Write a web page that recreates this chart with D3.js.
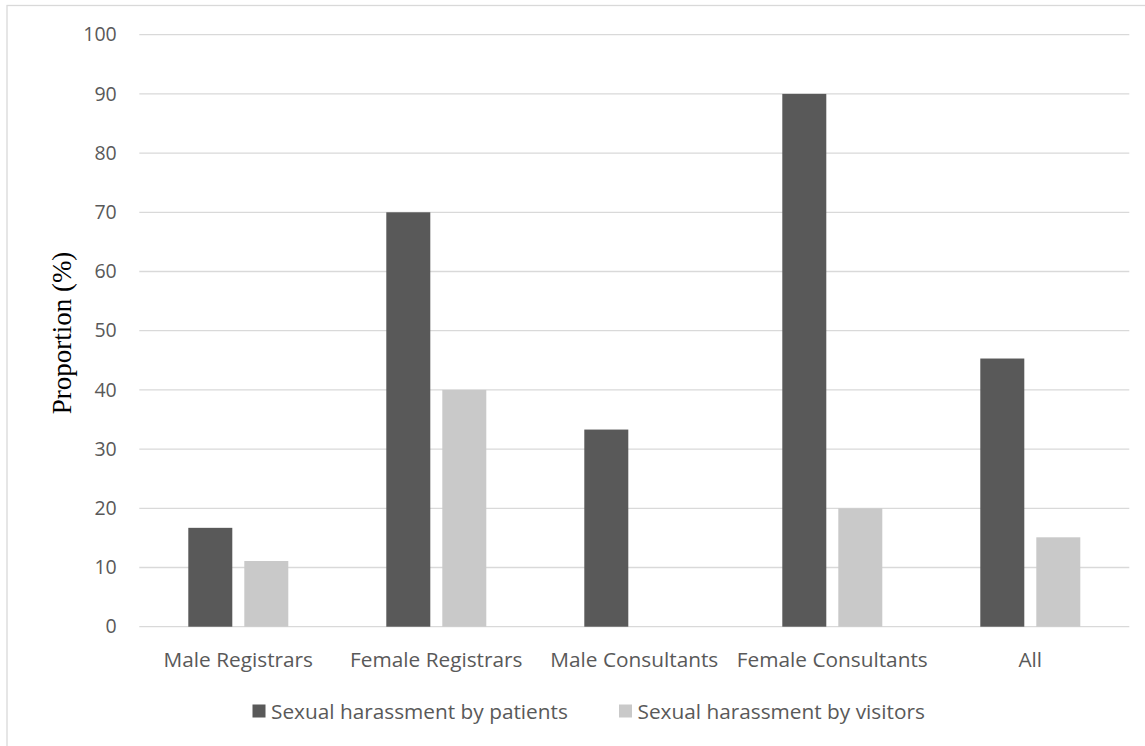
<!DOCTYPE html>
<html><head><meta charset="utf-8">
<script src="https://cdn.jsdelivr.net/npm/d3@7"></script>
<style>body{margin:0;background:#fff}svg{display:block}</style>
</head><body>
<svg id="c" width="1145" height="746"></svg>
<script>
const categories = ["Male Registrars","Female Registrars","Male Consultants","Female Consultants","All"];
const seriesNames = ["Sexual harassment by patients","Sexual harassment by visitors"];
const patients = [16.7, 70, 33.3, 90, 45.3];
const visitors = [11.1, 40, 0, 20, 15.1];
const yTicks = [0,10,20,30,40,50,60,70,80,90,100];
const colors = ["#595959","#c9c9c9"];

(function(){
const svg = d3.select("#c");
const font = "'Open Sans', Lato, sans-serif";
const textColor = "#595959";

svg.append("rect").attr("x",7).attr("y",5.5).attr("width",1150).attr("height",760)
  .attr("fill","none").attr("stroke","#d9d9d9").attr("stroke-width",1.3);

const pLeft = 139.3, pRight = 1129.3, pTop = 34.7, pBottom = 626.7;
const x0 = d3.scaleBand().domain(categories).range([pLeft,pRight]).padding(0);
const x1 = d3.scaleBand().domain(seriesNames).range([49,149]).paddingInner(2-100/56).paddingOuter(0);
const y = d3.scaleLinear().domain([0,100]).range([pBottom,pTop]);

svg.append("g").selectAll("line").data(yTicks).join("line")
  .attr("x1",pLeft).attr("x2",pRight)
  .attr("y1",d=>y(d)).attr("y2",d=>y(d))
  .attr("stroke","#d9d9d9").attr("stroke-width",1.3);

const yAxis = d3.axisLeft(y).tickValues(yTicks).tickSize(0).tickPadding(0);
const ya = svg.append("g").attr("transform",`translate(116.7,0)`).call(yAxis);
ya.select(".domain").remove();
ya.selectAll("text").attr("font-family",font).attr("font-size",19.5).attr("fill",textColor);

const data = categories.map((c,i)=>({cat:c, vals:[{s:seriesNames[0],v:patients[i],col:colors[0]},{s:seriesNames[1],v:visitors[i],col:colors[1]}]}));
const g = svg.append("g");
const grp = g.selectAll("g").data(data).join("g").attr("transform",d=>`translate(${x0(d.cat)},0)`);
grp.selectAll("rect").data(d=>d.vals.filter(e=>e.v>0)).join("rect")
  .attr("x",d=>x1(d.s)).attr("width",x1.bandwidth())
  .attr("y",d=>y(d.v)).attr("height",d=>y(0)-y(d.v))
  .attr("fill",d=>d.col);

const xAxis = d3.axisBottom(x0).tickSize(0).tickPadding(0);
const xa = svg.append("g").attr("transform",`translate(0,${pBottom})`).call(xAxis);
xa.select(".domain").remove();
xa.selectAll("text").attr("font-family",font).attr("font-size",20.8).attr("fill",textColor)
  .attr("dy",null).attr("y",40.5);

svg.append("text").attr("transform","translate(71,333) rotate(-90)")
  .attr("text-anchor","middle").attr("font-family","'Liberation Serif','Times New Roman',serif")
  .attr("font-size",27).attr("fill","#000").text("Proportion (%)");

const legX = [252.5, 619];
const leg = svg.append("g").selectAll("g").data(seriesNames).join("g")
  .attr("transform",(d,i)=>`translate(${legX[i]},704.5)`);
leg.append("rect").attr("width",13).attr("height",13).attr("fill",(d,i)=>colors[i]);
leg.append("text").attr("x",18.5).attr("y",14).attr("font-family",font).attr("font-size",20.8)
  .attr("fill",textColor).text(d=>d);
})();
</script>
</body></html>
